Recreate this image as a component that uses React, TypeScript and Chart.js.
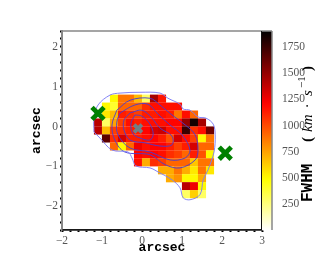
import React, { useEffect, useRef } from "react";
import { Chart, registerables } from "chart.js";

Chart.register(...registerables);

const xRange = [-2, 3];
const yRange = [-2.6, 2.4];
const fwhmRange = [3, 1902];
const fwhmTicks = [250, 500, 750, 1000, 1250, 1500, 1750];

const rowStartX = [-0.7, -0.9, -0.9, -1.1, -1.1, -0.9, -0.7, -0.1, -0.1, 0.5, 0.7, 1.1, 1.1];
const rowY = [0.7, 0.5, 0.3, 0.1, -0.1, -0.3, -0.5, -0.7, -0.9, -1.1, -1.3, -1.5, -1.7];
const row0 = [500, 880, 880, 680, 300, 1450, 1150];
const row1 = [500, 400, 920, 920, 920, 1080, 1170, 1170, 1170, 1170];
const row2 = [550, 680, 1130, 1080, 1030, 1130, 1130, 1170, 1130, 880, 1170, 920];
const row3 = [1400, 300, 750, 1030, 1170, 1130, 1170, 1170, 1170, 1200, 1200, 1500, 1850, 1450];
const row4 = [1400, 680, 1030, 1080, 1130, 1130, 1200, 1320, 1350, 1170, 1170, 1750, 1080, 1170, 1600];
const row5 = [1650, 1080, 1320, 1130, 1130, 1170, 1200, 1130, 980, 1320, 1170, 1030, 500, 880];
const row6 = [920, 500, 920, 1250, 1170, 1200, 1200, 1130, 1030, 1130, 1320, 920, 920];
const row7 = [1200, 1170, 1200, 1170, 1080, 1030, 920, 1130, 980, 500];
const row8 = [1170, 720, 1080, 1030, 920, 920, 920, 650, 880, 880];
const row9 = [720, 720, 880, 720, 550, 880, 550];
const row10 = [720, 800, 500, 500, 720];
const row11 = [1400, 1250, 500];
const row12 = [300, 620, 300];
const rows = [row0, row1, row2, row3, row4, row5, row6, row7, row8, row9, row10, row11, row12];

const outerX = [-1.2, -1.2, -1.1, -0.8, -0.55, -0.05, 0.45, 0.65, 0.95, 1.03, 1.2, 1.4, 1.6, 1.78, 1.83, 1.8, 1.65, 1.53, 1.45, 1.2, 1.03, 0.95, 0.75, 0.4, 0.2, -0.15, -0.25, -0.35, -0.75, -1.05, -1.2];
const outerY = [-0.14, 0.21, 0.54, 0.79, 0.84, 0.86, 0.84, 0.71, 0.56, 0.44, 0.41, 0.24, 0.21, 0.06, -0.21, -0.64, -1.09, -1.34, -1.71, -1.84, -1.79, -1.54, -1.34, -1.14, -1.04, -0.99, -0.79, -0.64, -0.59, -0.29, -0.14];
const level1X = [-0.18, 0, 0.2, 0.28, 0.2, -0.05, -0.22, -0.28, -0.18];
const level1Y = [0.29, 0.26, 0.06, -0.19, -0.34, -0.29, -0.19, 0.06, 0.29];
const level2X = [-0.3, 0, 0.25, 0.45, 0.75, 0.75, 0.45, 0.08, -0.3, -0.45, -0.45, -0.3];
const level2Y = [0.34, 0.41, 0.21, -0.04, -0.24, -0.46, -0.49, -0.41, -0.34, -0.09, 0.16, 0.34];
const level3X = [-0.55, -0.18, 0.15, 0.4, 0.7, 1, 1.2, 1.08, 0.7, 0.2, -0.3, -0.6, -0.63, -0.55];
const level3Y = [0.34, 0.54, 0.56, 0.31, 0.04, -0.21, -0.59, -0.79, -0.84, -0.64, -0.54, -0.21, 0.11, 0.34];
const level4X = [-0.63, -0.3, 0.2, 0.45, 0.75, 1.08, 1.33, 1.4, 1.33, 0.95, 0.58, 0.2, -0.43, -0.68, -0.75, -0.63];
const level4Y = [0.41, 0.66, 0.71, 0.54, 0.29, 0.04, -0.21, -0.59, -0.84, -1.04, -0.96, -0.71, -0.64, -0.34, 0.04, 0.41];

const greenX = [-1.1, 2.08];
const greenY = [0.33, -0.67];
const greyX = [-0.1];
const greyY = [-0.05];

function hotR(v: number) {
  const t = 1 - Math.min(1, Math.max(0, (v - fwhmRange[0]) / (fwhmRange[1] - fwhmRange[0])));
  const r = Math.min(1, t / 0.365);
  const g = Math.min(1, Math.max(0, (t - 0.365) / 0.381));
  const b = Math.min(1, Math.max(0, (t - 0.746) / 0.254));
  return `rgb(${Math.round(r * 255)},${Math.round(g * 255)},${Math.round(b * 255)})`;
}

function zip(xs: number[], ys: number[]) {
  return xs.map((x, i) => ({ x, y: ys[i] }));
}

const cellPoints: { x: number; y: number }[] = [];
const cellColors: string[] = [];
rows.forEach((row, r) =>
  row.forEach((v, i) => {
    cellPoints.push({ x: rowStartX[r] + i * 0.2, y: rowY[r] });
    cellColors.push(hotR(v));
  })
);

const line = (xs: number[], ys: number[], color: string) => ({
  type: "scatter" as const,
  data: zip(xs, ys),
  showLine: true,
  tension: 0.35,
  borderColor: color,
  borderWidth: 1,
  pointRadius: 0,
  order: 2,
});

const colorbar = {
  id: "colorbar",
  afterDraw(chart: any) {
    const { ctx, chartArea: a } = chart;
    const scale = chart.scales.y2;
    ctx.save();
    const g = ctx.createLinearGradient(0, a.bottom, 0, a.top);
    for (let i = 0; i <= 40; i++) {
      g.addColorStop(i / 40, hotR(fwhmRange[0] + (i / 40) * (fwhmRange[1] - fwhmRange[0])));
    }
    ctx.fillStyle = g;
    ctx.fillRect(a.right, scale.top, 10, scale.bottom - scale.top);
    ctx.strokeStyle = "#888";
    ctx.lineWidth = 1.5;
    ctx.beginPath();
    ctx.moveTo(a.right + 10, a.top);
    ctx.lineTo(a.right + 10, a.bottom);
    ctx.moveTo(a.left, a.top);
    ctx.lineTo(a.right + 10, a.top);
    ctx.stroke();
    ctx.strokeStyle = "#111";
    ctx.lineWidth = 1;
    ctx.beginPath();
    ctx.moveTo(a.right - 0.5, a.top);
    ctx.lineTo(a.right - 0.5, a.bottom);
    ctx.moveTo(a.left, a.bottom);
    ctx.lineTo(a.right, a.bottom);
    ctx.stroke();

    ctx.translate(308, 0);
    ctx.rotate(-Math.PI / 2);
    ctx.fillStyle = "#000";
    ctx.textBaseline = "alphabetic";
    ctx.textAlign = "left";
    ctx.font = "bold 16px 'Liberation Mono'";
    ctx.fillText("FWHM", -202, 4);
    ctx.font = "bold 15px 'Liberation Serif'";
    ctx.fillText("(", -142, 4);
    ctx.font = "italic 15px 'Liberation Serif'";
    ctx.fillText("km", -132, 4);
    ctx.fillText("\u00b7", -108, 4);
    ctx.fillText("s", -96, 4);
    ctx.font = "11px 'Liberation Serif'";
    ctx.fillText("\u22121", -88, -3);
    ctx.font = "bold 15px 'Liberation Serif'";
    ctx.fillText(")", -71, 4);
    ctx.restore();
  },
};

const tickFont = { family: "'Liberation Serif'", size: 11.5 };
const titleFont = { family: "'Liberation Mono'", size: 13, weight: "bold" as const };
const intLabel = (v: any) => {
  const n = Number(v);
  if (Math.abs(n - Math.round(n)) > 1e-6) return "";
  const r = Math.round(n);
  return r < 0 ? "\u2212" + Math.abs(r) : String(r);
};

export default function App() {
  const ref = useRef<HTMLCanvasElement>(null);
  useEffect(() => {
    document.body.style.margin = "0";
    const chart = new Chart(ref.current!, {
      type: "scatter",
      plugins: [colorbar],
      data: {
        datasets: [
          {
            data: cellPoints,
            pointStyle: "rect",
            pointRadius: 5.75,
            pointHoverRadius: 5.75,
            pointBackgroundColor: cellColors,
            pointBorderWidth: 0,
            order: 3,
          },
          line(outerX, outerY, "rgba(125,125,245,0.95)"),
          line(level1X, level1Y, "rgba(70,60,210,0.9)"),
          line(level2X, level2Y, "rgba(70,60,210,0.9)"),
          line(level3X, level3Y, "rgba(70,60,210,0.9)"),
          line(level4X, level4Y, "rgba(70,60,210,0.9)"),
          {
            data: zip(greenX, greenY),
            pointStyle: "crossRot",
            pointRadius: 8.5,
            pointBorderColor: "#008000",
            pointBorderWidth: 4.8,
            order: 1,
          },
          {
            data: zip(greyX, greyY),
            pointStyle: "crossRot",
            pointRadius: 5.5,
            pointBorderColor: "#708088",
            pointBorderWidth: 3.8,
            order: 1,
          },
        ],
      } as any,
      options: {
        animation: false,
        responsive: false,
        clip: false,
        layout: { padding: { top: 31, right: 0, left: 0, bottom: 0 } },
        plugins: { legend: { display: false }, tooltip: { enabled: false } },
        scales: {
          x: {
            type: "linear",
            min: xRange[0],
            max: xRange[1],
            afterFit: (s: any) => { s.height = 29; },
            border: { color: "#222", width: 1.5 },
            grid: { drawOnChartArea: false, tickLength: 2, tickColor: "#000", tickWidth: 2, offset: false },
            ticks: { stepSize: 0.2, autoSkip: false, maxRotation: 0, padding: 2, color: "#555", font: tickFont, callback: intLabel },
            title: { display: true, text: "arcsec", color: "#000", font: titleFont, padding: { top: 0, bottom: 3 } },
          },
          y: {
            type: "linear",
            min: yRange[0],
            max: yRange[1],
            afterFit: (s: any) => { s.width = 62; },
            border: { color: "#888", width: 2 },
            grid: { drawOnChartArea: false, tickLength: 2, tickColor: "#000", tickWidth: 2 },
            ticks: { stepSize: 0.2, autoSkip: false, padding: 2, color: "#555", font: tickFont, callback: intLabel },
            title: { display: true, text: "arcsec", color: "#000", font: titleFont, padding: { top: 29, bottom: 0 } },
          },
          y2: {
            type: "linear",
            position: "right",
            min: fwhmRange[0],
            max: fwhmRange[1],
            afterFit: (s: any) => { s.width = 64; },
            afterBuildTicks: (s: any) => { s.ticks = fwhmTicks.map((value) => ({ value })); },
            border: { display: false },
            grid: { display: false },
            ticks: { padding: 12, color: "#555", font: tickFont, autoSkip: false, callback: (v: any) => String(v) },
          },
        },
      } as any,
    });
    return () => chart.destroy();
  }, []);
  return <canvas ref={ref} width={326} height={259} style={{ display: "block" }} />;
}
